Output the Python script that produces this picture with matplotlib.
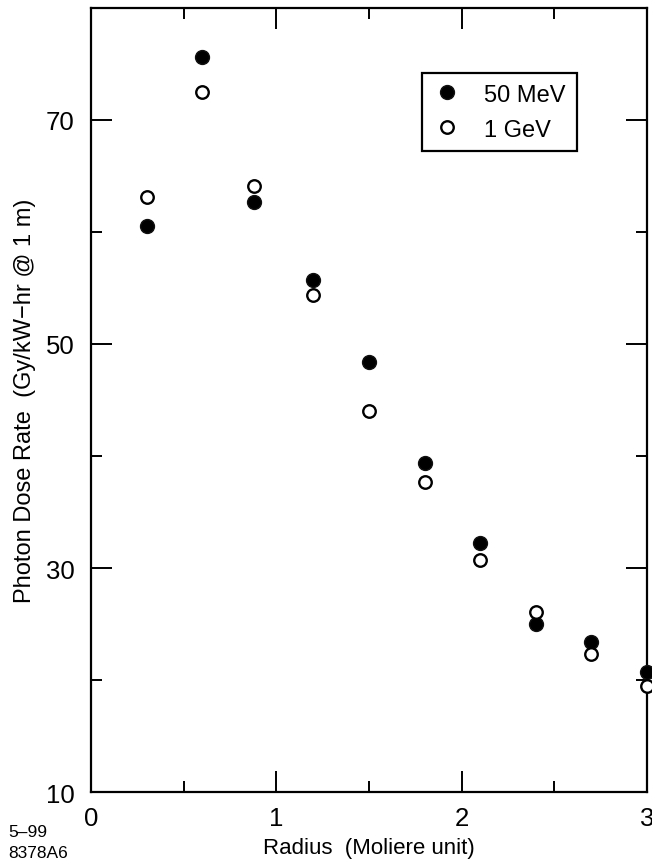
import matplotlib
matplotlib.use("Agg")
import matplotlib.pyplot as plt
from matplotlib.ticker import MultipleLocator

plt.rcParams['font.family'] = ['Liberation Sans', 'DejaVu Sans']

# --- DATA ---
radius = [0.3, 0.6, 0.88, 1.2, 1.5, 1.8, 2.1, 2.4, 2.7, 3.0]
dose_50mev = [60.5, 75.6, 62.7, 55.7, 48.4, 39.4, 32.2, 25.0, 23.4, 20.7]
dose_1gev = [63.1, 72.5, 64.1, 54.4, 44.0, 37.7, 30.7, 26.1, 22.3, 19.5]

x_ticks = [0, 1, 2, 3]
y_ticks = [10, 30, 50, 70]

fig = plt.figure(figsize=(6.52, 8.62), dpi=100)
ax = fig.add_axes([0.1396, 0.0800, 0.8527, 0.9096])

ax.plot(radius, dose_50mev, 'o', color='black', markersize=10,
        markeredgecolor='#111111', label='50 MeV', clip_on=False, zorder=3)
ax.plot(radius, dose_1gev, 'o', markerfacecolor='white', markeredgecolor='black',
        markeredgewidth=1.7, markersize=9, label='1 GeV', clip_on=False, zorder=4)

ax.set_xlim(0, 3)
ax.set_ylim(10, 80)
ax.set_xticks(x_ticks)
ax.set_yticks(y_ticks)
ax.xaxis.set_minor_locator(MultipleLocator(0.5))
ax.yaxis.set_minor_locator(MultipleLocator(10))

for s in ax.spines.values():
    s.set_linewidth(1.6)

ax.tick_params(which='both', direction='in', top=True, right=True, width=1.4,
               labelsize=18.5)
ax.tick_params(which='major', length=15)
ax.tick_params(which='minor', length=8)
ax.tick_params(axis='x', which='major', pad=10)
ax.tick_params(axis='y', which='major', pad=12)

ax.set_xlabel('Radius  (Moliere unit)', fontsize=16, labelpad=5)
ax.set_ylabel('Photon Dose Rate  (Gy/kW\u2212hr @ 1 m)', fontsize=17, labelpad=7)

leg = ax.legend(loc='upper left', bbox_to_anchor=(0.595, 0.917), fontsize=17,
                frameon=True, fancybox=False, edgecolor='black', framealpha=1,
                handletextpad=1.0, borderpad=0.45, labelspacing=0.55,
                handlelength=1.2, borderaxespad=0)
leg.get_frame().set_linewidth(1.6)

fig.text(0.012, 0.029, '5\u201399', fontsize=12.5, va='baseline')
fig.text(0.012, 0.005, '8378A6', fontsize=12.5, va='baseline')

fig.savefig('out.png', dpi=100)
